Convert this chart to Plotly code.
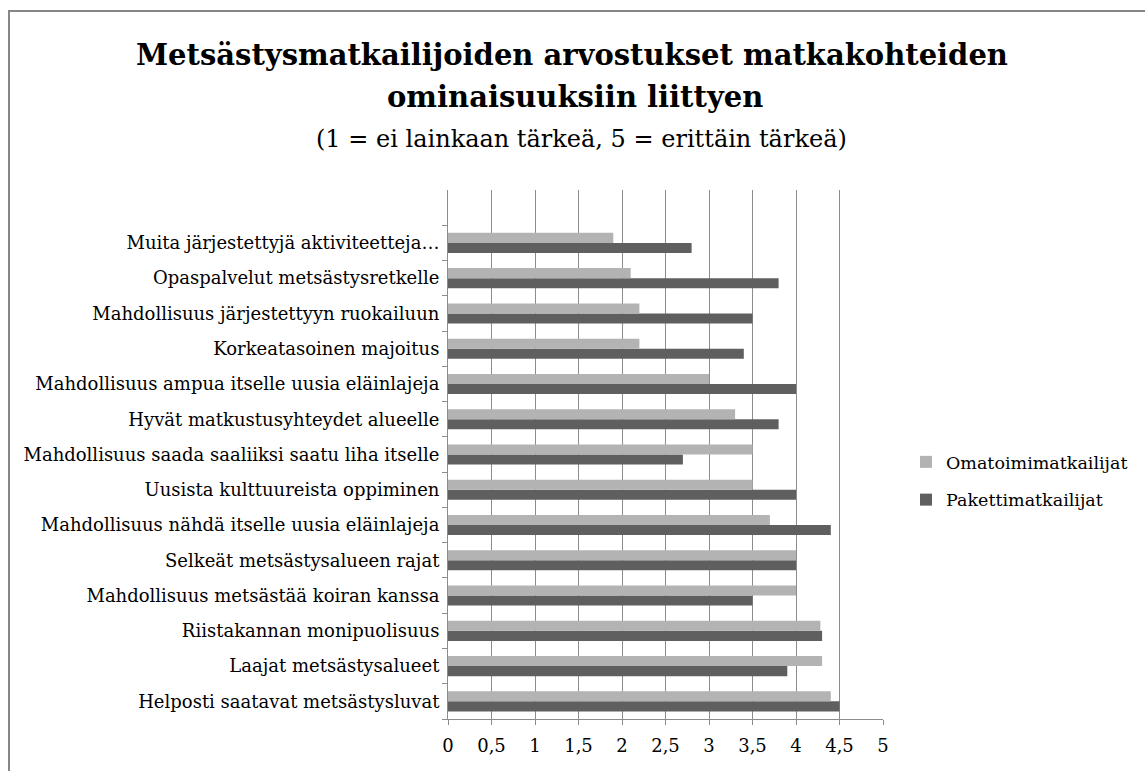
import plotly.graph_objects as go

categories = [
    "Helposti saatavat metsästysluvat",
    "Laajat metsästysalueet",
    "Riistakannan monipuolisuus",
    "Mahdollisuus metsästää koiran kanssa",
    "Selkeät metsästysalueen rajat",
    "Mahdollisuus nähdä itselle uusia eläinlajeja",
    "Uusista kulttuureista oppiminen",
    "Mahdollisuus saada saaliiksi saatu liha itselle",
    "Hyvät matkustusyhteydet alueelle",
    "Mahdollisuus ampua itselle uusia eläinlajeja",
    "Korkeatasoinen majoitus",
    "Mahdollisuus järjestettyyn ruokailuun",
    "Opaspalvelut metsästysretkelle",
    "Muita järjestettyjä aktiviteetteja…",
]
omatoimi = [4.4, 4.3, 4.28, 4.0, 4.0, 3.7, 3.5, 3.5, 3.3, 3.0, 2.2, 2.2, 2.1, 1.9]
paketti = [4.5, 3.9, 4.3, 3.5, 4.0, 4.4, 4.0, 2.7, 3.8, 4.0, 3.4, 3.5, 3.8, 2.8]
x_ticks = [0, 0.5, 1, 1.5, 2, 2.5, 3, 3.5, 4, 4.5, 5]
x_labels = ["0", "0,5", "1", "1,5", "2", "2,5", "3", "3,5", "4", "4,5", "5"]

FONT = "DejaVu Serif, Liberation Serif, serif"
L, R, T, B = 448, 883, 190, 719
W, H = 1145, 771
PW, PH = R - L, B - T

def px(x):
    return (x - L) / PW

def py(y):
    return (B - y) / PH

fig = go.Figure()
fig.add_trace(go.Bar(
    y=categories, x=paketti, orientation="h", name="Pakettimatkailijat",
    marker=dict(color="#5f5f5f", line=dict(width=0)), legendgroup="p", legendrank=2,
))
fig.add_trace(go.Bar(
    y=categories, x=omatoimi, orientation="h", name="Omatoimimatkailijat",
    marker=dict(color="#b3b3b3", line=dict(width=0)), legendgroup="o", legendrank=1,
))

fig.update_layout(
    width=W, height=H,
    margin=dict(l=L, r=W - R, t=T, b=H - B, autoexpand=False),
    paper_bgcolor="white", plot_bgcolor="white",
    barmode="group", bargap=0.43, bargroupgap=0,
    font=dict(family=FONT, color="#000000", size=17.5),
    showlegend=True,
    legend=dict(
        x=px(906), y=py(444), xanchor="left", yanchor="top",
        traceorder="grouped", tracegroupgap=12, itemwidth=30,
        font=dict(family=FONT, size=17.5, color="#000000"),
        bgcolor="rgba(0,0,0,0)",
    ),
    xaxis=dict(
        range=[0, 5], tickvals=x_ticks, ticktext=x_labels,
        showgrid=True, gridcolor="#8c8c8c", gridwidth=1,
        showline=True, linecolor="#8c8c8c", linewidth=1,
        ticks="outside", ticklen=5, tickcolor="#8c8c8c",
        tickfont=dict(family=FONT, size=18, color="#000000"),
        ticklabelstandoff=5,
        zeroline=False, fixedrange=True,
    ),
    yaxis=dict(
        type="category", categoryorder="array", categoryarray=categories,
        range=[-0.5, 14.5],
        showline=True, linecolor="#8c8c8c", linewidth=1,
        ticks="outside", ticklen=5, tickcolor="#8c8c8c", tickson="boundaries",
        showgrid=False,
        tickfont=dict(family=FONT, size=18, color="#000000"),
        ticklabelstandoff=4,
        fixedrange=True,
    ),
)

annotations = [
    dict(text="<b>Metsästysmatkailijoiden arvostukset matkakohteiden</b>",
         x=px(572), y=py(55), size=29),
    dict(text="<b>ominaisuuksiin liittyen</b>", x=px(575), y=py(97), size=29),
    dict(text="(1 = ei lainkaan tärkeä, 5 = erittäin tärkeä)", x=px(581), y=py(139), size=24),
]
for a in annotations:
    fig.add_annotation(
        text=a["text"], x=a["x"], y=a["y"], xref="paper", yref="paper",
        xanchor="center", yanchor="middle", showarrow=False,
        font=dict(family=FONT, size=a["size"], color="#000000"),
    )

fig.add_shape(
    type="rect", xref="paper", yref="paper",
    x0=px(9), y0=py(790), x1=px(1160), y1=py(11),
    line=dict(color="#868686", width=2), fillcolor="rgba(0,0,0,0)", layer="above",
)

fig.write_html(
    "out.html",
    config={"displayModeBar": False},
    post_script="document.body.style.margin='0';document.body.style.overflow='hidden';",
)
